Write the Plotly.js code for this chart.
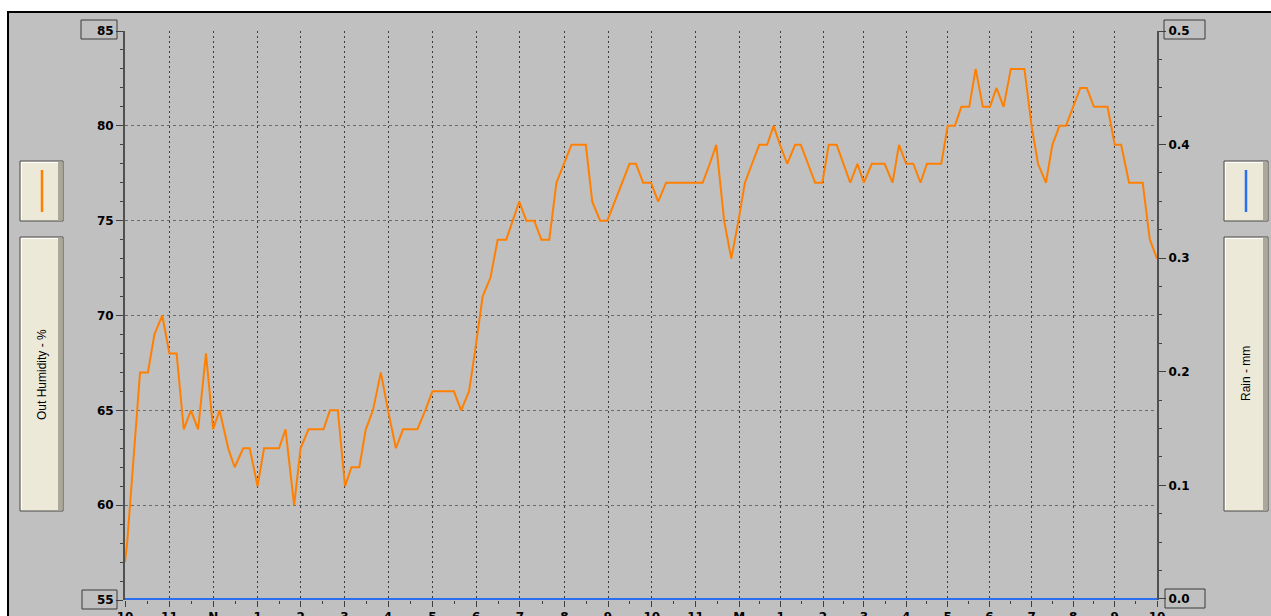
<!DOCTYPE html>
<html>
<head>
<meta charset="utf-8">
<script src="https://cdn.plot.ly/plotly-3.0.1.min.js"></script>
<style>
  html, body { margin: 0; padding: 0; background: #C0C0C0; }
  #chart { width: 1271px; height: 616px; }
</style>
</head>
<body>
<div id="chart"></div>
<script>
// ---- Data (position along the time axis, in minute units after 10:00 AM) ----
const humidityMinutes = [0, 3, 21, 32, 41, 52, 62, 72, 82, 92, 102, 113, 123, 132, 144, 153, 165, 174, 185, 194,
  205, 215, 224, 236, 245, 256, 266, 277, 286, 297, 307, 316, 327, 336, 346, 357, 367, 378, 388, 398,
  408, 419, 429, 439, 449, 459, 469, 480, 488, 499, 510, 520, 532, 541, 550, 560, 571, 581, 592, 602,
  612, 623, 633, 643, 652, 663, 673, 683, 693, 704, 713, 723, 734, 744, 755, 765, 775, 786, 796, 806,
  816, 825, 836, 846, 856, 865, 875, 885, 896, 905, 914, 924, 935, 943, 953, 963, 973, 982, 993, 1002,
  1012, 1022, 1031, 1042, 1051, 1060, 1071, 1080, 1090, 1100, 1110, 1119, 1129, 1139, 1148, 1158, 1167, 1178, 1187, 1197,
  1207, 1216, 1226, 1236, 1245, 1255, 1265, 1274, 1285, 1294, 1304, 1313, 1323, 1333, 1342, 1352, 1362, 1371, 1381, 1390,
  1401, 1410, 1420, 1430, 1440];
const humidityValues = [57, 58, 67, 67, 69, 70, 68, 68, 64, 65, 64, 68, 64, 65, 63, 62, 63, 63, 61, 63,
  63, 63, 64, 60, 63, 64, 64, 64, 65, 65, 61, 62, 62, 64, 65, 67, 65, 63, 64, 64,
  64, 65, 66, 66, 66, 66, 65, 66, 68, 71, 72, 74, 74, 75, 76, 75, 75, 74, 74, 77,
  78, 79, 79, 79, 76, 75, 75, 76, 77, 78, 78, 77, 77, 76, 77, 77, 77, 77, 77, 77,
  78, 79, 75, 73, 75, 77, 78, 79, 79, 80, 79, 78, 79, 79, 78, 77, 77, 79, 79, 78,
  77, 78, 77, 78, 78, 78, 77, 79, 78, 78, 77, 78, 78, 78, 80, 80, 81, 81, 83, 81,
  81, 82, 81, 83, 83, 83, 80, 78, 77, 79, 80, 80, 81, 82, 82, 81, 81, 81, 79, 79,
  77, 77, 77, 74, 73];

// hour gridline positions on the same axis (the reference's hour spacing is not uniform)
const hourTickPos = [0, 62, 123, 185, 245, 306, 367, 429, 490, 551, 613, 674, 735, 796,
  857, 915, 974, 1031, 1090, 1148, 1206, 1265, 1323, 1381, 1440];
const hourLabels = ["10", "11", "N", "1", "2", "3", "4", "5", "6", "7", "8", "9", "10", "11",
  "M", "1", "2", "3", "4", "5", "6", "7", "8", "9", "10"];

const rainMinutes = [0, 62, 123, 185, 245, 306, 367, 429, 490, 551, 613, 674, 735, 796,
  857, 915, 974, 1031, 1090, 1148, 1206, 1265, 1323, 1381, 1440];
const rainValues = [0, 0, 0, 0, 0, 0, 0, 0, 0, 0, 0, 0, 0,
  0, 0, 0, 0, 0, 0, 0, 0, 0, 0, 0, 0];

const rainTickLabels = ["0.0", "0.1", "0.2", "0.3", "0.4", "0.5"];
const rainTickValues = [0, 0.1, 0.2, 0.3, 0.4, 0.5];

// ---- Layout helpers (pixel -> paper) ----
const W = 1271, H = 616, ML = 125, MR = 114, MT = 31, MB = 16;
const PW = W - ML - MR, PH = H - MT - MB;
const X = px => (px - ML) / PW;
const Y = py => (H - MB - py) / PH;

const halfTicks = hourTickPos.slice(1).map((v, i) => (v + hourTickPos[i]) / 2);
const rainMinor = [];
rainTickValues.slice(1).forEach((v, i) => {
  const a = rainTickValues[i];
  [1, 2, 3].forEach(k => rainMinor.push(a + (v - a) * k / 4));
});

function rect(x0, y0, x1, y1, fill, line, lw) {
  return { type: 'rect', xref: 'paper', yref: 'paper', x0: X(x0), x1: X(x1), y0: Y(y1), y1: Y(y0),
    fillcolor: fill || 'rgba(0,0,0,0)', line: { color: line || 'rgba(0,0,0,0)', width: lw === undefined ? 1 : lw }, layer: 'above' };
}
function seg(x0, y0, x1, y1, color, w) {
  return { type: 'line', xref: 'paper', yref: 'paper', x0: X(x0), x1: X(x1), y0: Y(y0), y1: Y(y1),
    line: { color: color, width: w }, layer: 'above' };
}
function legendBox(x0, y0, x1, y1) {
  return [
    rect(x0, y0, x1, y1, '#ECE9D8', '#4a4a4a', 1),
    rect(x1 - 5, y0 + 1, x1 - 0.5, y1 - 0.5, '#ACA899', null, 0),
    seg(x0 + 1.5, y0 + 1.5, x0 + 1.5, y1 - 1, '#FFFFFF', 1),
    seg(x0 + 1.5, y0 + 1.5, x1 - 5, y0 + 1.5, '#FFFFFF', 1)
  ];
}

const shapes = [
  rect(0, 0, W, 11, '#FFFFFF', null, 0),
  rect(0, 0, 7, H, '#FFFFFF', null, 0),
  seg(7, 12, W, 12, '#000000', 2),
  seg(8, 11, 8, H, '#000000', 2),
  // boxed end labels
  rect(81, 20, 117, 39, null, '#3a3a3a', 1),
  rect(82, 590, 117, 609, null, '#3a3a3a', 1),
  rect(1164, 20, 1205, 39, null, '#3a3a3a', 1),
  rect(1165, 589, 1205, 608, null, '#3a3a3a', 1),
  ...legendBox(20, 161, 63, 221),
  ...legendBox(20, 237, 63, 511),
  ...legendBox(1224, 161, 1268, 221),
  ...legendBox(1224, 237, 1268, 511),
  seg(42, 170, 42, 212, '#FF8000', 2.5),
  seg(1246, 170, 1246, 212, '#2A6FF0', 2.5)
];

const tickFont = { family: 'DejaVu Sans', size: 12, color: '#000000', weight: 'bold' };

const traces = [
  { x: humidityMinutes, y: humidityValues, type: 'scatter', mode: 'lines', yaxis: 'y',
    line: { color: '#FF8000', width: 2 }, hoverinfo: 'skip', name: 'Out Humidity - %' },
  { x: rainMinutes, y: rainValues, type: 'scatter', mode: 'lines', yaxis: 'y2',
    line: { color: '#2A6FF0', width: 2 }, hoverinfo: 'skip', name: 'Rain - mm' }
];

const layout = {
  width: W, height: H,
  margin: { l: ML, r: MR, t: MT, b: MB, pad: 0 },
  paper_bgcolor: '#C0C0C0', plot_bgcolor: '#C0C0C0',
  showlegend: false,
  xaxis: {
    range: [0, 1440], tickmode: 'array', tickvals: hourTickPos, ticktext: hourLabels,
    ticks: 'outside', ticklen: 6, tickwidth: 1, tickcolor: '#404040',
    showline: false, zeroline: false,
    showgrid: true, gridcolor: '#3c3c3c', gridwidth: 1, griddash: '2px,3px',
    tickfont: tickFont, fixedrange: true,
    minor: { tickmode: 'array', tickvals: halfTicks, ticks: 'outside', ticklen: 3, tickcolor: '#404040', tickwidth: 1, showgrid: false }
  },
  yaxis: {
    range: [55, 85], tick0: 55, dtick: 5, tickmode: 'linear',
    ticks: 'outside', ticklen: 7, tickwidth: 1, tickcolor: '#404040',
    showline: true, linecolor: '#505050', linewidth: 2, zeroline: false,
    showgrid: true, gridcolor: '#6a6a6a', gridwidth: 1, griddash: '3px,3px',
    tickfont: tickFont, fixedrange: true,
    minor: { dtick: 1, ticks: 'outside', ticklen: 3, tickcolor: '#404040', tickwidth: 1, showgrid: false }
  },
  yaxis2: {
    overlaying: 'y', side: 'right', range: [-0.0009, 0.5],
    tickmode: 'array', tickvals: rainTickValues, ticktext: rainTickLabels,
    ticks: 'outside', ticklen: 7, tickwidth: 1, tickcolor: '#404040',
    showline: true, linecolor: '#505050', linewidth: 2, zeroline: false,
    showgrid: false, tickfont: tickFont, fixedrange: true,
    minor: { tickmode: 'array', tickvals: rainMinor,
      ticks: 'outside', ticklen: 3, tickcolor: '#404040', tickwidth: 1, showgrid: false }
  },
  shapes: shapes,
  annotations: [
    { xref: 'paper', yref: 'paper', x: X(42), y: Y(375), text: 'Out Humidity - %', showarrow: false,
      textangle: -90, xanchor: 'center', yanchor: 'middle',
      font: { family: 'Liberation Sans', size: 12, color: '#000000' } },
    { xref: 'paper', yref: 'paper', x: X(1246), y: Y(374), text: 'Rain - mm', showarrow: false,
      textangle: -90, xanchor: 'center', yanchor: 'middle',
      font: { family: 'Liberation Sans', size: 12, color: '#000000' } }
  ]
};

Plotly.newPlot('chart', traces, layout, { displayModeBar: false, staticPlot: true });
</script>
</body>
</html>
